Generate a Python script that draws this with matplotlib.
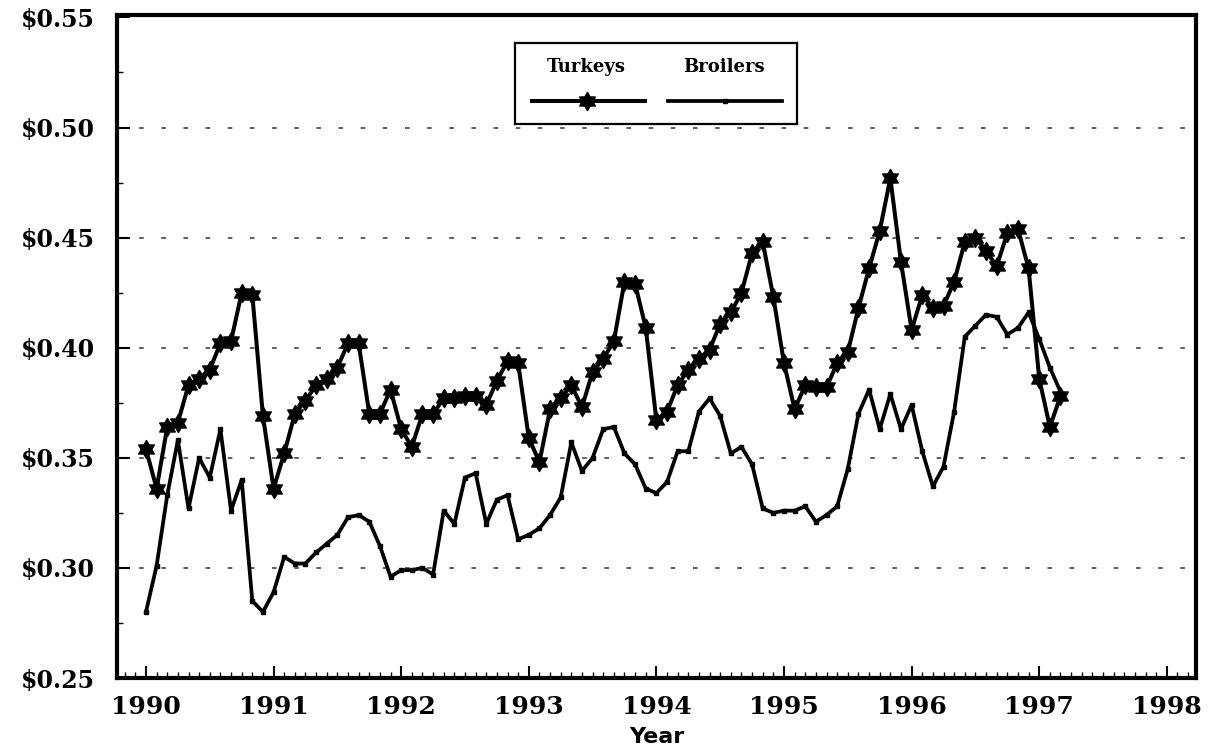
import numpy as np
import matplotlib
matplotlib.use("Agg")
from matplotlib import pyplot as plt
from matplotlib.path import Path
from matplotlib.ticker import FuncFormatter, MultipleLocator

# Monthly prices, Jan 1990 - Mar 1997 ($ per lb)
turkeys = [0.354, 0.336, 0.364, 0.366, 0.383, 0.386, 0.390, 0.402, 0.403, 0.425, 0.424, 0.369,
           0.336, 0.352, 0.370, 0.376, 0.383, 0.386, 0.391, 0.402, 0.402, 0.370, 0.370, 0.381,
           0.363, 0.355, 0.370, 0.370, 0.377, 0.377, 0.378, 0.378, 0.374, 0.385, 0.394, 0.393,
           0.359, 0.348, 0.372, 0.377, 0.383, 0.373, 0.389, 0.395, 0.403, 0.430, 0.429, 0.409,
           0.367, 0.371, 0.383, 0.390, 0.395, 0.399, 0.411, 0.416, 0.425, 0.443, 0.448, 0.423,
           0.393, 0.372, 0.383, 0.382, 0.382, 0.393, 0.398, 0.418, 0.436, 0.453, 0.477, 0.439,
           0.408, 0.424, 0.418, 0.419, 0.430, 0.448, 0.450, 0.444, 0.437, 0.452, 0.454, 0.436,
           0.386, 0.364, 0.378]
broilers = [0.280, 0.301, 0.333, 0.358, 0.327, 0.350, 0.341, 0.363, 0.326, 0.340, 0.285, 0.280,
            0.289, 0.305, 0.302, 0.302, 0.307, 0.311, 0.315, 0.323, 0.324, 0.321, 0.310, 0.296,
            0.299, 0.299, 0.300, 0.297, 0.326, 0.320, 0.341, 0.343, 0.320, 0.331, 0.333, 0.313,
            0.315, 0.318, 0.324, 0.332, 0.357, 0.344, 0.350, 0.363, 0.364, 0.352, 0.347, 0.336,
            0.334, 0.339, 0.353, 0.353, 0.371, 0.377, 0.369, 0.352, 0.355, 0.347, 0.327, 0.325,
            0.326, 0.326, 0.328, 0.321, 0.324, 0.328, 0.345, 0.370, 0.381, 0.363, 0.379, 0.363,
            0.374, 0.353, 0.337, 0.346, 0.371, 0.405, 0.410, 0.415, 0.414, 0.406, 0.409, 0.416,
            0.404, 0.391, 0.380]
start_year = 1990
year_ticks = list(range(1990, 1999))
price_ticks = [0.25, 0.30, 0.35, 0.40, 0.45, 0.50, 0.55]

months = start_year + np.arange(len(turkeys)) / 12.0

# six pointed star for the turkey series
ang = np.deg2rad(np.arange(12) * 30 + 90)
rad = np.where(np.arange(12) % 2 == 0, 1.0, 0.58)
verts = np.column_stack([rad * np.cos(ang), rad * np.sin(ang)])
verts = np.vstack([verts, verts[:1]])
codes = [Path.MOVETO] + [Path.LINETO] * 11 + [Path.CLOSEPOLY]
hexstar = Path(verts, codes)

tick_font = {"family": "DejaVu Serif", "weight": "bold"}

fig = plt.figure(figsize=(12.15, 7.51), dpi=100)
ax = fig.add_axes([0.0963, 0.0972, 0.8881, 0.8828])

ax.plot(months, broilers, color="black", lw=2.7, marker="s", ms=3.5, zorder=3)
ax.plot(months, turkeys, color="black", lw=2.9, marker=hexstar, ms=13, zorder=4)

ax.set_xlim(1989.773, 1998.229)
ax.set_ylim(0.25, 0.5511)

ax.set_xticks(year_ticks)
ax.xaxis.set_minor_locator(MultipleLocator(1 / 12))
ax.set_yticks(price_ticks)
ax.yaxis.set_minor_locator(MultipleLocator(0.025))
ax.yaxis.set_major_formatter(FuncFormatter(lambda v, p: "${:.2f}".format(v)))

ax.tick_params(axis="both", which="major", direction="in", length=9, width=1.5, color="black")
ax.tick_params(axis="both", which="minor", direction="in", length=4, width=1, color="black")
ax.tick_params(axis="x", which="major", pad=12)
ax.tick_params(axis="y", which="major", pad=16)
ax.tick_params(top=False, right=False, which="both")

for lab in ax.get_xticklabels():
    lab.set_fontfamily("DejaVu Serif")
    lab.set_fontweight("bold")
    lab.set_fontsize(18)
for lab in ax.get_yticklabels():
    lab.set_fontfamily("DejaVu Serif")
    lab.set_fontweight("bold")
    lab.set_fontsize(17)

for v in price_ticks[1:-1]:
    ax.axhline(v, color="#333333", lw=1.1, linestyle=(0, (3, 11.5)), zorder=1)

for sp in ax.spines.values():
    sp.set_linewidth(3)

ax.set_xlabel("Year", fontsize=16, fontweight="bold", family="DejaVu Sans", labelpad=6)

# legend box, labels above the line samples
leg = fig.add_axes([0.4239, 0.8349, 0.2321, 0.1079])
leg.set_xlim(0, 1)
leg.set_ylim(0, 1)
leg.set_xticks([])
leg.set_yticks([])
for sp in leg.spines.values():
    sp.set_linewidth(1.6)
leg.text(0.252, 0.70, "Turkeys", ha="center", va="center", fontsize=13, **tick_font)
leg.text(0.741, 0.70, "Broilers", ha="center", va="center", fontsize=13, **tick_font)
leg.plot([0.06, 0.461], [0.288, 0.288], color="black", lw=2.9)
leg.plot([0.255], [0.288], color="black", marker=hexstar, ms=13, lw=0)
leg.plot([0.543, 0.947], [0.288, 0.288], color="black", lw=2.7)
leg.plot([0.745], [0.288], color="black", marker="s", ms=3.5, lw=0)

fig.savefig("out.png", dpi=100)
